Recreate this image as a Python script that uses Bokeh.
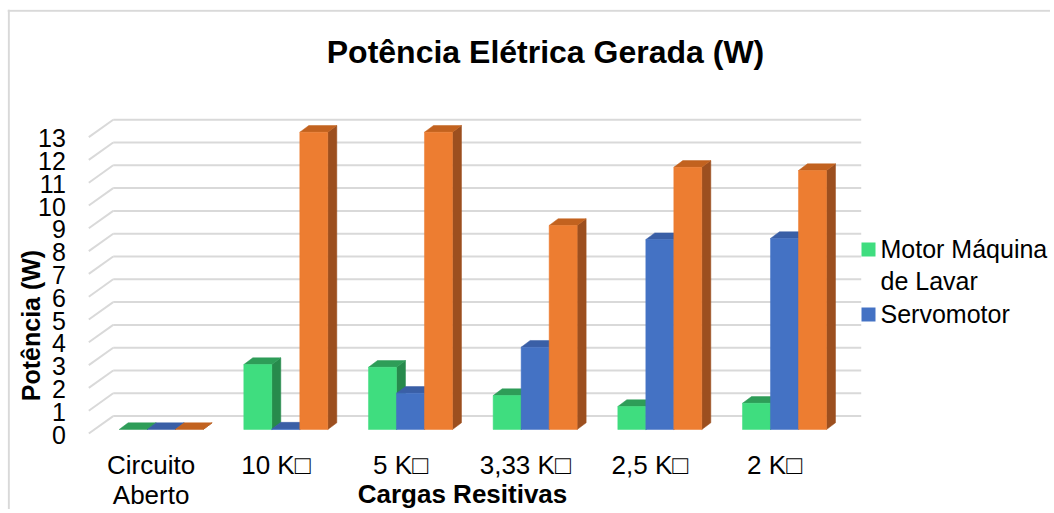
import math
from bokeh.plotting import figure
from bokeh.models import Range1d, ColumnDataSource, Span
from bokeh.embed import file_html
from bokeh.resources import INLINE
from bokeh.core.properties import value

# ---------------- data ----------------
categories = ["Circuito\nAberto", "10 K\u25a1", "5 K\u25a1", "3,33 K\u25a1", "2,5 K\u25a1", "2 K\u25a1"]
motor_maquina = [0.0, 2.85, 2.73, 1.49, 1.01, 1.15]
servomotor = [0.0, 0.02, 1.59, 3.61, 8.33, 8.38]
terceira_serie = [0.0, 13.04, 13.04, 8.95, 11.50, 11.36]
y_ticks = list(range(0, 14))
legend_labels = ["Motor Máquina\nde Lavar", "Servomotor"]
title_text = "Potência Elétrica Gerada (W)"
y_title = "Potência (W)"
x_title = "Cargas Resitivas"

front_colors = ["#3fdd7f", "#4472c4", "#ed7d31"]
top_colors = ["#2e9d58", "#3a5fa6", "#c2621f"]
side_colors = ["#278a4c", "#2f5597", "#9c4f1f"]
grid_color = "#d9d9d9"
FONT = value("Liberation Sans")

# ---------------- geometry (canvas pixels) ----------------
W, H = 1050, 509
FL, FT = 7, 9             # frame left / top
OX, OY = 88.3, 433.0      # floor front-left corner (value 0)
SX, SY = 124.67, 22.8     # px per category slot, px per watt


def px_x(px):
    return px / SX


def px_y(px):
    return px / SY


def cx(fx):
    return (fx - OX) / SX


def cy(fy):
    return (OY - fy) / SY


p = figure(width=W, height=H, title=None,
           x_range=Range1d(cx(FL), cx(W)), y_range=Range1d(cy(H), cy(FT)),
           x_axis_type=None, y_axis_type=None,
           min_border=0, min_border_left=FL, min_border_right=0,
           min_border_top=FT, min_border_bottom=0,
           toolbar_location=None, output_backend="svg",
           background_fill_color="white", border_fill_color="white",
           outline_line_color=None)
p.grid.visible = False

# chart border (left and top edges; right/bottom lie outside the picture)
p.add_layout(Span(location=cx(8.3), dimension="height", line_color=grid_color, line_width=2))
p.add_layout(Span(location=cy(10.2), dimension="width", line_color=grid_color, line_width=2))

# ---------------- back wall / side wall gridlines ----------------
n = len(y_ticks)
gdx, gdy = px_x(24.4), px_y(17.4)
ncat = len(categories)
p.segment(x0=[0] * n, y0=y_ticks, x1=[gdx] * n, y1=[v + gdy for v in y_ticks],
          line_color=grid_color, line_width=2)
p.segment(x0=[gdx] * n, y0=[v + gdy for v in y_ticks],
          x1=[ncat + gdx] * n, y1=[v + gdy for v in y_ticks],
          line_color=grid_color, line_width=2)

# ---------------- 3D bars ----------------
bw = px_x(28)
gx = px_x(10)
by = px_y(4)
sdx = px_x(9)
sdy = px_y(6.7)
series = [motor_maquina, servomotor, terceira_serie]
xs, ys, fc = [], [], []
for i in range(ncat):
    for s, vals in enumerate(series):
        v = vals[i]
        l = i + 0.5 + gx - 1.5 * bw + s * bw
        r = l + bw
        b = by
        t = v + by
        xs.append([r, r + sdx, r + sdx, r]); ys.append([b, b + sdy, t + sdy, t]); fc.append(side_colors[s])
        xs.append([l, r, r + sdx, l + sdx]); ys.append([t, t, t + sdy, t + sdy]); fc.append(top_colors[s])
        if v > 0:
            xs.append([l, r, r, l]); ys.append([b, b, t, t]); fc.append(front_colors[s])
bars = ColumnDataSource(dict(xs=xs, ys=ys, fc=fc))
p.patches(xs="xs", ys="ys", fill_color="fc", line_color="fc", line_width=0.5, source=bars)

# ---------------- tick labels ----------------
p.text(x=[0] * n, y=y_ticks, text=[str(v) for v in y_ticks],
       x_offset=-23, y_offset=1, text_align="right", text_baseline="middle",
       text_font=FONT, text_font_size="25px", text_color="#000000")

p.text(x=[i + 0.5 for i in range(ncat)], y=[0] * ncat, text=categories,
       y_offset=16, text_align="center", text_baseline="top", text_line_height=1.0,
       text_font=FONT, text_font_size="26px", text_color="#000000")

# ---------------- titles ----------------
p.text(x=[cx(545)], y=[cy(51)], text=[title_text], text_align="center",
       text_baseline="middle", text_font=FONT, text_font_size="32px",
       text_font_style="bold", text_color="#000000")
p.text(x=[cx(30)], y=[cy(325)], text=[y_title], angle=math.pi / 2,
       text_align="center", text_baseline="middle", text_font=FONT,
       text_font_size="25px", text_font_style="bold", text_color="#000000")
p.text(x=[cx(462)], y=[cy(493)], text=[x_title], text_align="center",
       text_baseline="middle", text_font=FONT, text_font_size="26px",
       text_font_style="bold", text_color="#000000")

# ---------------- legend ----------------
p.scatter(x=[cx(868)] * 2, y=[cy(249), cy(314)], marker="square", size=14,
          fill_color=front_colors[:2], line_color=None)
p.text(x=[cx(880)] * 2, y=[cy(264.7), cy(313.5)], text=legend_labels,
       text_align="left", text_baseline="middle", text_line_height=1.16,
       text_font=FONT, text_font_size="25px", text_color="#000000")

open("out.html", "w").write(file_html(p, INLINE))
